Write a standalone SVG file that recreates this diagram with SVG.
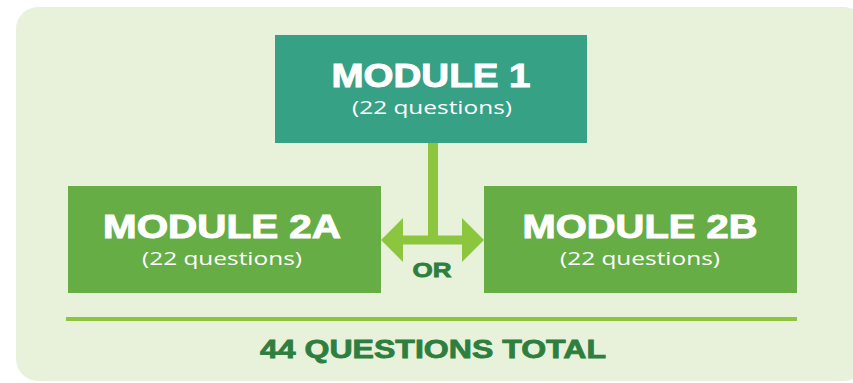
<svg xmlns="http://www.w3.org/2000/svg" width="853" height="383" viewBox="0 0 853 383">
<style>
.title{font-family:"Liberation Sans",Arial,sans-serif;font-weight:bold;fill:#ffffff;stroke:#ffffff;stroke-width:1;text-anchor:middle}
.sub{font-family:"Open Sans","Liberation Sans",sans-serif;font-weight:normal;fill:#ffffff;text-anchor:middle;font-size:18px}
.dark{font-family:"Liberation Sans",Arial,sans-serif;font-weight:bold;fill:#2e7f3f;stroke:#2e7f3f;stroke-width:0.8;text-anchor:middle}
.conn{fill:#8cc63f}
</style>
<rect x="0" y="0" width="853" height="383" fill="#ffffff"/>
<rect id="panel" x="16" y="7" width="850" height="374" rx="22" fill="#e8f1d9"/>
<g id="connectors">
<rect class="conn" x="428" y="142" width="10" height="99"/>
<path class="conn" d="M381,240 L403,218 L403,235.5 L462,235.5 L462,218 L484,240 L462,262 L462,244.5 L403,244.5 L403,262 Z"/>
<text class="dark" x="432" y="277" font-size="21" textLength="39" lengthAdjust="spacingAndGlyphs">OR</text>
</g>
<g id="module1">
<rect x="275" y="35" width="312" height="108" fill="#36a185"/>
<text class="title" x="431" y="87" font-size="34" textLength="199" lengthAdjust="spacingAndGlyphs">MODULE 1</text>
<text class="sub" x="432" y="114" textLength="160" lengthAdjust="spacingAndGlyphs">(22 questions)</text>
</g>
<g id="module2a">
<rect x="68" y="186" width="313" height="107" fill="#66ad46"/>
<text class="title" x="222" y="238" font-size="33" textLength="238" lengthAdjust="spacingAndGlyphs">MODULE 2A</text>
<text class="sub" x="222" y="265" textLength="160" lengthAdjust="spacingAndGlyphs">(22 questions)</text>
</g>
<g id="module2b">
<rect x="484" y="186" width="313" height="107" fill="#66ad46"/>
<text class="title" x="640" y="238" font-size="33" textLength="235" lengthAdjust="spacingAndGlyphs">MODULE 2B</text>
<text class="sub" x="640" y="265" textLength="160" lengthAdjust="spacingAndGlyphs">(22 questions)</text>
</g>
<g id="total">
<rect x="66" y="317" width="731" height="4" fill="#8cc63f"/>
<text class="dark" x="433" y="358" font-size="25" textLength="346" lengthAdjust="spacingAndGlyphs">44 QUESTIONS TOTAL</text>
</g>
</svg>
